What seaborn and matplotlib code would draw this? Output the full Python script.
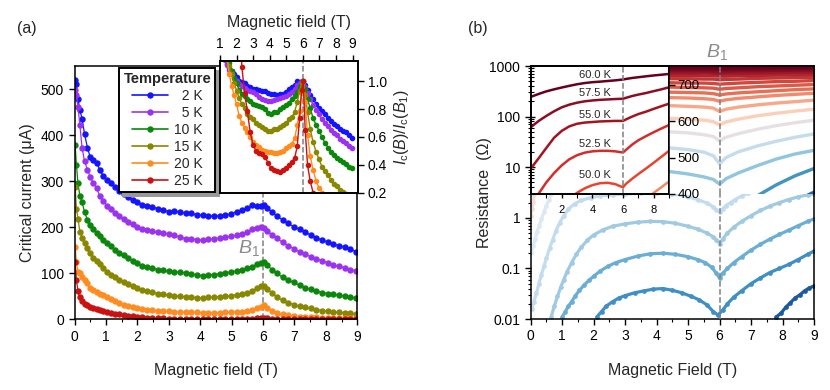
import numpy as np
import pandas as pd
import matplotlib
matplotlib.use('Agg')
import matplotlib.pyplot as plt
import matplotlib.transforms as mtransforms
from matplotlib.lines import Line2D
from matplotlib.ticker import MultipleLocator, FuncFormatter, NullFormatter, FixedLocator
import seaborn as sns

# ---------------- (a) critical current vs magnetic field ----------------
field_a = [0.02, 0.06, 0.11, 0.17, 0.24, 0.32, 0.41, 0.5, 0.6, 0.7,
           0.81, 0.92, 1.04, 1.16, 1.29, 1.42, 1.56, 1.7, 1.85, 2.0,
           2.16, 2.32, 2.48, 2.65, 2.82, 3.0, 3.18, 3.36, 3.54, 3.72,
           3.9, 4.08, 4.26, 4.44, 4.62, 4.8, 4.98, 5.16, 5.33, 5.5,
           5.66, 5.8, 5.92, 6.02, 6.14, 6.28, 6.44, 6.62, 6.8, 6.98,
           7.16, 7.34, 7.52, 7.7, 7.88, 8.06, 8.24, 8.42, 8.6, 8.78, 8.96]

ic_2K = [520, 510, 478, 455, 435, 402, 373, 352, 346, 340,
         324, 311, 302, 296, 288, 279, 272, 266, 260, 255,
         249, 247, 244, 240, 237, 234, 235, 233, 231, 230,
         227, 226, 225, 224, 225, 226, 229, 234, 238, 241,
         248, 247, 246, 248, 241, 233, 224, 216, 208, 201,
         195, 189, 183, 177, 172, 168, 163, 160, 157, 152, 147]
ic_5K = [497, 488, 460, 422, 372, 343, 325, 309, 295, 285,
         267, 256, 247, 240, 231, 224, 217, 211, 206, 201,
         197, 194, 191, 189, 187, 186, 183, 178, 175, 174,
         173, 172, 174, 175, 177, 178, 180, 183, 186, 190,
         196, 199, 201, 199, 192, 184, 176, 167, 160, 153,
         146, 141, 136, 131, 127, 123, 118, 115, 112, 108, 105]
ic_10K = [378, 335, 295, 268, 255, 232, 216, 204, 195, 188,
          180, 173, 165, 159, 150, 145, 140, 133, 127, 122,
          116, 113, 111, 108, 106, 104, 103, 102, 101, 99,
          96, 95, 97, 97, 99, 101, 103, 105, 108, 111,
          114, 120, 123, 124, 117, 108, 100, 91, 85, 80,
          74, 69, 65, 61, 58, 56, 54, 52, 50, 48, 47]
ic_15K = [288, 240, 218, 190, 177, 166, 155, 143, 133, 126,
          119, 111, 103, 97, 92, 86, 81, 77, 72, 68,
          64, 61, 59, 56, 54, 53, 51, 50, 49, 48,
          47, 47, 48, 48, 49, 50, 51, 53, 54, 57,
          62, 68, 72, 73, 66, 57, 48, 41, 36, 32,
          28, 26, 24, 21, 19, 18, 16, 15, 14, 13, 12]
ic_20K = [158, 125, 103, 100, 92, 86, 78, 68, 64, 60,
          56, 52, 48, 44, 40, 35, 31.5, 29, 27, 25,
          22.5, 21, 20, 19, 18, 17, 16.3, 15.8, 15.2, 15,
          14.8, 14.7, 14.6, 14.5, 14.7, 15, 15.6, 16, 16.4, 17.7,
          20.5, 23.5, 27.5, 30, 25.5, 18.5, 14, 10.8, 8.5, 7,
          6, 5.2, 4.5, 4, 3.6, 3.3, 3, 2.8, 2.6, 2.5, 2.4]
ic_25K = [125, 85, 62, 48, 40, 34, 30, 26, 24, 22,
          20, 18, 16, 14, 12, 10.5, 9, 7.8, 6.6, 5.5,
          4.4, 3.3, 2.75, 2.35, 1.9, 1.62, 1.5, 1.46, 1.43, 1.37,
          1.24, 1.13, 1.09, 1.06, 1.05, 1.08, 1.13, 1.2, 1.27, 1.34,
          1.6, 2.2, 2.8, 3.0, 1.95, 1.2, 0.85, 0.6, 0.45, 0.36,
          0.3, 0.26, 0.23, 0.2, 0.18, 0.16, 0.15, 0.14, 0.13, 0.12, 0.11]

temps_a = ['2 K', '5 K', '10 K', '15 K', '20 K', '25 K']
legend_a = ['  2 K', '  5 K', '10 K', '15 K', '20 K', '25 K']
colors_a = ['#1414ff', '#9a32f0', '#0b870b', '#878700', '#ff8c1e', '#cc1111']

# ---------------- (b) resistance vs magnetic field ----------------
# low-temperature curves (main log panel)
field_p1 = [0.0, 0.04, 0.08, 0.12]
res_p1 = [1.1, 1.5, 2.1, 2.9]
field_p2 = [0.02, 0.08, 0.14, 0.2, 0.27, 0.34, 0.42, 0.5, 0.58, 0.66]
res_p2 = [0.2, 0.28, 0.38, 0.52, 0.7, 0.95, 1.3, 1.75, 2.3, 3.0]
field_l1 = [0.03, 0.1, 0.18, 0.26, 0.34, 0.42, 0.5, 0.6, 0.7, 0.8, 0.92, 1.05,
            1.2, 1.4, 1.6, 1.9, 2.2, 2.6, 3.0, 3.5, 4.0, 4.5, 5.0, 5.3, 5.6,
            5.8, 5.9, 6.0, 6.1, 6.2, 6.35, 6.5, 6.7, 6.9, 7.1]
res_l1 = [0.016, 0.022, 0.032, 0.05, 0.075, 0.11, 0.16, 0.25, 0.37, 0.55, 0.8, 1.1,
          1.5, 1.9, 2.2, 2.5, 2.7, 2.85, 2.95, 3.05, 3.1, 3.0, 2.6, 2.3, 1.95,
          1.65, 1.45, 1.31, 1.5, 1.75, 2.0, 2.3, 2.7, 3.1, 3.5]
field_l2 = [0.65, 0.75, 0.85, 0.95, 1.05, 1.15, 1.3, 1.45, 1.6, 1.8, 2.0, 2.3,
            2.6, 3.0, 3.4, 3.8, 4.2, 4.6, 5.0, 5.3, 5.6, 5.8, 5.9, 6.0, 6.1,
            6.25, 6.45, 6.7, 7.0, 7.3, 7.6, 7.9, 8.2, 8.5, 8.8, 9.0]
res_l2 = [0.011, 0.018, 0.028, 0.042, 0.06, 0.085, 0.13, 0.19, 0.26, 0.36, 0.46, 0.58,
          0.68, 0.76, 0.82, 0.85, 0.84, 0.78, 0.68, 0.6, 0.5, 0.42, 0.37, 0.31, 0.38,
          0.5, 0.65, 0.85, 1.1, 1.4, 1.7, 2.0, 2.3, 2.6, 2.85, 3.0]
field_l3 = [1.0, 1.1, 1.2, 1.3, 1.42, 1.55, 1.7, 1.85, 2.0, 2.2, 2.45, 2.7,
            3.0, 3.4, 3.8, 4.2, 4.6, 5.0, 5.3, 5.55, 5.75, 5.9, 6.0, 6.1, 6.25,
            6.45, 6.7, 7.0, 7.3, 7.6, 7.9, 8.2, 8.5, 8.8, 9.0]
res_l3 = [0.011, 0.014, 0.018, 0.022, 0.029, 0.037, 0.047, 0.058, 0.07, 0.088, 0.11, 0.13,
          0.15, 0.175, 0.195, 0.2, 0.19, 0.17, 0.15, 0.13, 0.105, 0.08, 0.064, 0.08, 0.1,
          0.13, 0.17, 0.23, 0.3, 0.38, 0.47, 0.57, 0.7, 0.85, 0.95]
field_l4 = [2.1, 2.25, 2.4, 2.6, 2.8, 3.0, 3.3, 3.6, 3.9, 4.2, 4.5, 4.8, 5.1,
            5.35, 5.6, 5.8, 5.95, 6.1, 6.25, 6.45, 6.7, 7.0, 7.3, 7.6, 7.9,
            8.2, 8.5, 8.8, 9.0]
res_l4 = [0.011, 0.014, 0.018, 0.022, 0.026, 0.029, 0.033, 0.036, 0.039, 0.04, 0.037, 0.033, 0.028,
          0.024, 0.019, 0.014, 0.012, 0.015, 0.02, 0.027, 0.036, 0.05, 0.065, 0.083, 0.1,
          0.12, 0.15, 0.19, 0.22]
field_d1 = [7.8, 7.95, 8.1, 8.25, 8.4, 8.55, 8.7, 8.85, 9.0]
res_d1 = [0.011, 0.013, 0.017, 0.021, 0.026, 0.03, 0.036, 0.041, 0.045]
colors_low = ['#f2dcd6', '#dce8f3', '#c3dbee', '#9fcae2', '#6aaed6', '#3f8fc5', '#1c5a9e']

# 50-60 K curves (log inset)
field_lo = [0.0, 0.5, 1.0, 1.5, 2.0, 2.5, 3.0, 3.5, 4.0, 4.5, 5.0,
            5.5, 5.8, 6.0, 6.2, 6.6, 7.0, 7.5, 8.0, 8.5, 9.0]
res_60K = [246, 280, 315, 345, 375, 405, 435, 460, 478, 490, 505,
           520, 532, 540, 555, 580, 600, 625, 650, 672, 695]
res_575K = [62, 82, 103, 127, 152, 172, 188, 200, 208, 214, 218,
            222, 224, 225, 235, 255, 272, 292, 318, 345, 380]
res_55K = [9.5, 15, 24, 38, 52, 64, 72, 76, 78, 80, 81,
           82, 82, 82, 88, 100, 112, 125, 142, 160, 180]
res_525K = [1.4, 3.0, 5.0, 7.6, 10.8, 14.3, 17.2, 19.3, 20.5, 21, 21,
            20.5, 19.8, 19.5, 22, 28, 34, 41, 49, 58, 68]
res_50K = [0.3, 0.5, 0.8, 1.2, 1.7, 2.4, 3.1, 3.8, 4.4, 4.8, 4.9,
           4.6, 4.2, 4.0, 4.7, 5.9, 7.3, 9.4, 12.2, 16, 21]
res_475K = [0.05, 0.08, 0.12, 0.17, 0.23, 0.3, 0.38, 0.46, 0.55, 0.64, 0.73,
            0.8, 0.85, 0.9, 1.0, 1.3, 1.8, 2.4, 3.1, 4.0, 5.2]
labels_lo = ['60.0 K', '57.5 K', '55.0 K', '52.5 K', '50.0 K']
label_res_lo = [660, 288, 107, 28, 7.0]
colors_lo = ['#67001f', '#8c0c24', '#a3141f', '#d42c2a', '#e8452f', '#f48766']

# higher-temperature curves (linear inset)
field_hi = [4.38, 5.0, 5.5, 5.8, 6.0, 6.2, 6.6, 7.2, 7.8, 8.4, 9.0]
res_hi_00 = [300, 295, 290, 285, 278, 285, 300, 325, 350, 380, 405]
res_hi_01 = [360, 355, 350, 345, 335, 345, 365, 395, 425, 450, 470]
res_hi_02 = [462, 455, 447, 440, 427, 442, 458, 478, 496, 510, 520]
res_hi_03 = [527, 522, 515, 505, 483, 500, 516, 532, 545, 556, 565]
res_hi_04 = [571, 568, 563, 558, 546, 556, 566, 578, 588, 596, 603]
res_hi_05 = [608, 606, 603, 599, 590, 598, 606, 615, 622, 628, 633]
res_hi_06 = [643, 641, 639, 636, 627, 633, 639, 645, 650, 654, 658]
res_hi_07 = [665, 664, 662, 660, 655, 659, 663, 667, 671, 674, 677]
res_hi_08 = [680, 679, 678, 676, 672, 675, 678, 681, 684, 687, 689]
res_hi_09 = [694, 693, 692, 691, 688, 690, 692, 695, 697, 699, 701]
res_hi_10 = [706, 705, 705, 704, 702, 703, 705, 707, 709, 710, 712]
res_hi_11 = [717, 717, 716, 716, 714, 715, 716, 718, 719, 720, 721]
res_hi_12 = [726, 726, 725, 725, 724, 724, 725, 726, 727, 728, 729]
res_hi_13 = [733, 733, 733, 732, 731, 732, 732, 733, 734, 735, 735]
res_hi_14 = [739, 739, 739, 738, 738, 738, 739, 739, 740, 740, 741]
res_hi_15 = [744, 744, 744, 744, 743, 743, 744, 744, 745, 745, 745]
res_hi_16 = [749, 749, 749, 749, 748, 748, 749, 749, 749, 750, 750]
colors_hi = ['#2166ac', '#4393c3', '#92c5de', '#c5dcec', '#e6e0e4', '#fbcfb8',
             '#f7a889', '#f28a6c', '#e86f56', '#dc5a47', '#cf473d', '#c13735',
             '#b0262e', '#9c1828', '#860e24', '#6f0520', '#67001f']

# ---------------- style ----------------
sns.set_style('ticks')
plt.rcParams['font.family'] = ['Liberation Sans', 'DejaVu Sans']
plt.rcParams['mathtext.fontset'] = 'custom'
plt.rcParams['mathtext.rm'] = 'Liberation Sans'
plt.rcParams['mathtext.it'] = 'Liberation Sans:italic'
plt.rcParams['mathtext.bf'] = 'Liberation Sans:bold'
plt.rcParams['axes.linewidth'] = 1.1
plt.rcParams['axes.edgecolor'] = 'black'
plt.rcParams['xtick.color'] = 'black'
plt.rcParams['ytick.color'] = 'black'
plt.rcParams['xtick.major.width'] = 1.0
plt.rcParams['ytick.major.width'] = 1.0
plt.rcParams['xtick.minor.width'] = 0.8
plt.rcParams['ytick.minor.width'] = 0.8

TICK = 10
LAB = 11.5
dash_col = '0.5'

fig = plt.figure(figsize=(8.3, 3.9), dpi=100)

# ======== panel (a) ========
ax_a = fig.add_axes([0.0898, 0.1813, 0.3407, 0.6495])
df_a = pd.DataFrame({
    'field': field_a * len(temps_a),
    'ic': ic_2K + ic_5K + ic_10K + ic_15K + ic_20K + ic_25K,
    'T': sum([[t] * len(field_a) for t in temps_a], []),
})
win = df_a['field'].between(5.5, 6.5)
peak = df_a[win].groupby('T')['ic'].max()
df_a['norm'] = df_a['ic'] / df_a['T'].map(peak)

sns.lineplot(data=df_a, x='field', y='ic', hue='T', hue_order=temps_a, palette=colors_a,
             marker='o', markersize=4.6, markeredgewidth=0, linewidth=0.9,
             sort=False, estimator=None, legend=False, ax=ax_a)
ax_a.axvline(6, ls='--', color=dash_col, lw=1.1, zorder=0)
ax_a.set_xlim(0, 9)
ax_a.set_ylim(0, 550)
ax_a.set_xticks(range(0, 10))
ax_a.xaxis.set_minor_locator(MultipleLocator(0.5))
ax_a.set_yticks([0, 100, 200, 300, 400, 500])
ax_a.tick_params(labelsize=TICK, length=4)
ax_a.tick_params(which='minor', length=2.5)
ax_a.set_xlabel('Magnetic field (T)', fontsize=LAB, labelpad=14)
ax_a.set_ylabel('Critical current (\u03bcA)', fontsize=LAB, labelpad=4)
ax_a.text(5.55, 155, r'$B_1$', color='0.55', fontsize=14, ha='center', va='center')

handles = [Line2D([], [], color=c, marker='o', markersize=4.6, markeredgewidth=0, lw=1.2)
           for c in colors_a]
leg = ax_a.legend(handles, legend_a, title='Temperature', loc='upper left',
                  bbox_to_anchor=(0.158, 0.993), borderaxespad=0, fontsize=TICK,
                  title_fontproperties={'weight': 'bold', 'size': 10.5},
                  frameon=True, fancybox=False, edgecolor='black', framealpha=1,
                  handlelength=2.6, handletextpad=0.4, labelspacing=0.22,
                  borderpad=0.3, shadow={'ox': 2.5, 'oy': -2.5, 'color': '0.6', 'alpha': 1})
leg.get_frame().set_linewidth(1.4)

# inset: normalised critical current
ax_ai = fig.add_axes([0.2651, 0.5059, 0.1657, 0.3377])
sns.lineplot(data=df_a[df_a['field'] > 0.9], x='field', y='norm', hue='T', hue_order=temps_a,
             palette=colors_a, marker='o', markersize=4.0, markeredgewidth=0, linewidth=1.0,
             sort=False, estimator=None, legend=False, ax=ax_ai)
ax_ai.axvline(6, ls='--', color=dash_col, lw=1.1, zorder=0)
ax_ai.set_xlim(1, 9.3)
ax_ai.set_ylim(0.2, 1.145)
ax_ai.xaxis.tick_top()
ax_ai.xaxis.set_label_position('top')
ax_ai.yaxis.tick_right()
ax_ai.yaxis.set_label_position('right')
ax_ai.set_xticks(range(1, 10))
ax_ai.set_yticks([0.2, 0.4, 0.6, 0.8, 1.0])
ax_ai.yaxis.set_major_formatter(FuncFormatter(lambda v, _: f'{v:.1f}'))
ax_ai.tick_params(labelsize=TICK, length=4)
ax_ai.set_xlabel('Magnetic field (T)', fontsize=LAB, labelpad=7)
ax_ai.set_ylabel(r'$I_\mathrm{c}(B)/I_\mathrm{c}(B_1)$', fontsize=LAB, labelpad=3)
for s in ax_ai.spines.values():
    s.set_linewidth(1.4)

# ======== panel (b) ========
ax_b = fig.add_axes([0.6394, 0.182, 0.3413, 0.6487])
ax_b.set_yscale('log')
low_curves = [(field_p1, res_p1), (field_p2, res_p2), (field_l1, res_l1), (field_l2, res_l2),
              (field_l3, res_l3), (field_l4, res_l4), (field_d1, res_d1)]
for (fx, ry), c in zip(low_curves, colors_low):
    sns.lineplot(x=fx, y=ry, color=c, marker='o', markersize=3.4, markeredgewidth=0,
                 linewidth=2.3, sort=False, estimator=None, ax=ax_b)
ax_b.axvline(6, ls='--', color=dash_col, lw=1.1, zorder=3)
ax_b.set_xlim(0, 9)
ax_b.set_ylim(0.01, 1000)
ax_b.set_xticks(range(0, 10))
ax_b.xaxis.set_minor_locator(MultipleLocator(0.5))
ax_b.yaxis.set_major_formatter(FuncFormatter(lambda v, _: f'{v:g}'))
ax_b.yaxis.set_minor_formatter(NullFormatter())
ax_b.tick_params(labelsize=TICK, length=4)
ax_b.tick_params(which='minor', length=2.5)
ax_b.set_xlabel('Magnetic Field (T)', fontsize=LAB, labelpad=14)
ax_b.set_ylabel('Resistance  (\u03a9)', fontsize=LAB, labelpad=-2)

# left inset: log scale, 47.5-60 K
ax_bl = fig.add_axes([0.6398, 0.5026, 0.1663, 0.3282])
ax_bl.set_yscale('log')
lo_curves = [res_60K, res_575K, res_55K, res_525K, res_50K, res_475K]
for ry, c in zip(lo_curves, colors_lo):
    sns.lineplot(x=field_lo, y=ry, color=c, linewidth=1.8, sort=False, estimator=None, ax=ax_bl)
ax_bl.axvline(6, ls='--', color=dash_col, lw=1.1)
for lab, yv in zip(labels_lo, label_res_lo):
    ax_bl.text(4.17, yv, lab, fontsize=8, ha='center', va='center')
ax_bl.set_xlim(0, 9)
ax_bl.set_ylim(2.94, 1000)
ax_bl.xaxis.set_major_locator(FixedLocator([2, 4, 6, 8]))
ax_bl.xaxis.set_minor_locator(FixedLocator([1, 3, 5, 7, 9]))
ax_bl.tick_params(axis='x', which='both', labelsize=8, length=3, direction='out', pad=5)
ax_bl.tick_params(axis='y', which='both', direction='in', labelleft=False, length=3)
ax_bl.tick_params(axis='y', which='minor', length=2)
ax_bl.set_xlabel('')
ax_bl.set_ylabel('')
for s in ax_bl.spines.values():
    s.set_linewidth(1.4)

# right inset: linear scale, higher temperatures
ax_br = fig.add_axes([0.806, 0.5026, 0.1747, 0.3282])
hi_curves = [res_hi_00, res_hi_01, res_hi_02, res_hi_03, res_hi_04, res_hi_05, res_hi_06,
             res_hi_07, res_hi_08, res_hi_09, res_hi_10, res_hi_11, res_hi_12, res_hi_13,
             res_hi_14, res_hi_15, res_hi_16]
for ry, c in zip(hi_curves, colors_hi):
    sns.lineplot(x=field_hi, y=ry, color=c, linewidth=2.4, sort=False, estimator=None, ax=ax_br)
ax_br.axvline(6, ls='--', color=dash_col, lw=1.1)
ax_br.set_xlim(4.39, 9.0)
ax_br.set_ylim(400, 752)
ax_br.set_axisbelow(False)
ax_br.spines['bottom'].set_visible(False)
ax_br.set_xticks([])
ax_br.set_yticks([400, 500, 600, 700])
ax_br.tick_params(axis='y', direction='in', length=4, pad=-6, labelsize=9.5)
plt.setp(ax_br.get_yticklabels(), ha='left')
ax_br.set_xlabel('')
ax_br.set_ylabel('')
trans = mtransforms.blended_transform_factory(ax_br.transData, ax_br.transAxes)
ax_br.text(5.93, 1.03, r'$B_1$', transform=trans, color='0.55', fontsize=14,
           ha='center', va='bottom')

fig.text(0.0205, 0.926, '(a)', fontsize=LAB, va='center')
fig.text(0.564, 0.926, '(b)', fontsize=LAB, va='center')

fig.savefig('out.png', dpi=100)
